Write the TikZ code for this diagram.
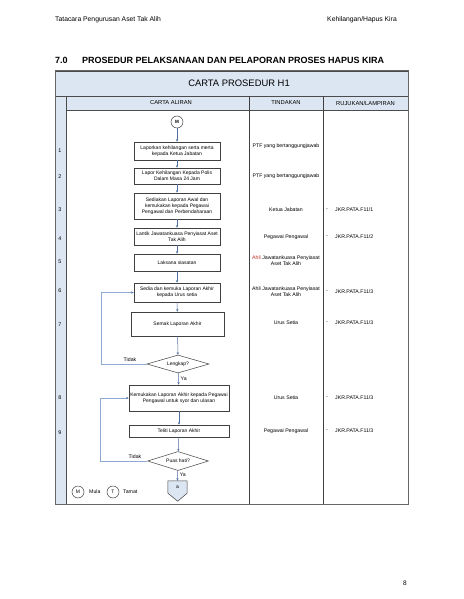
\documentclass[tikz,border=0pt]{standalone}
\usepackage{fontspec}
\setmainfont{Liberation Sans}
\usetikzlibrary{shapes.geometric,arrows.meta}
\definecolor{hdrblue}{HTML}{DCE6F2}
\definecolor{arrblue}{HTML}{4F6FA0}
\definecolor{fbblue}{HTML}{8DA9D4}
\definecolor{ahlired}{HTML}{C0302A}
\tikzset{
  box/.style={draw=black!75, line width=0.5pt, fill=white, align=center, inner sep=0.5pt,
    font=\fontsize{5}{5.9}\selectfont},
  cond/.style={diamond, draw=black!75, line width=0.5pt, fill=white, inner sep=0pt, aspect=3.3,
    font=\fontsize{5}{5.9}\selectfont},
  term/.style={circle, draw=black!75, line width=0.5pt, fill=white, minimum size=12pt, inner sep=0pt,
    font=\fontsize{5}{5.5}\selectfont},
  arr/.style={draw=arrblue, line width=0.5pt, -{Stealth[length=2.6pt,width=2.2pt]}},
  fb/.style={draw=fbblue, line width=0.8pt, -{Stealth[length=2.6pt,width=2.2pt,color=arrblue]}},
  small/.style={font=\fontsize{5.2}{6}\selectfont, align=center, inner sep=0pt},
  colhead/.style={font=\fontsize{5.8}{6.5}\selectfont, inner sep=0pt}
}
\begin{document}
\begin{tikzpicture}[x=1pt,y=-1pt]
\useasboundingbox[fill=white] (0,0) rectangle (463,599);
% page head
\node[anchor=west, font=\fontsize{6.8}{8}\selectfont, inner sep=0pt] (head1) at (55,20) {Tatacara Pengurusan Aset Tak Alih};
\node[anchor=east, font=\fontsize{6.8}{8}\selectfont, inner sep=0pt] (head2) at (397,20) {Kehilangan/Hapus Kira};
\node[anchor=west, font=\bfseries\fontsize{9}{11}\selectfont, inner sep=0pt] (sec) at (55,60) {7.0};
\node[anchor=west, font=\bfseries\fontsize{9}{11}\selectfont, inner sep=0pt] (sectitle) at (82,60) {PROSEDUR PELAKSANAAN DAN PELAPORAN PROSES HAPUS KIRA};
\node[font=\fontsize{6.5}{7}\selectfont, inner sep=0pt] (pageno) at (405,583) {8};
% table
\draw[draw=black!70, fill=hdrblue, line width=0.6pt] (55,71) rectangle (408,96);
\draw[draw=black!70, fill=hdrblue, line width=0.6pt] (55,96) rectangle (66,504);
\draw[draw=black!70, fill=hdrblue, line width=0.6pt] (66,96) rectangle (408,110);
\draw[black!75, line width=0.6pt] (249,96) -- (249,504) (323,96) -- (323,504);
\draw[black!60, line width=1pt] (55,71) rectangle (408,504);
\node[font=\fontsize{9.4}{10}\selectfont, inner sep=0pt] (title) at (239,83.5) {CARTA PROSEDUR H1};
\node[colhead] (h1) at (171,103) {CARTA ALIRAN};
\node[colhead] (h2) at (286,102.5) {TINDAKAN};
\node[colhead] (h3) at (365.5,103) {RUJUKAN/LAMPIRAN};
\foreach \n/\y in {1/151,2/177,3/210,4/239,5/262,6/291,7/325,8/398,9/433}
  \node[font=\fontsize{5.4}{6}\selectfont, inner sep=0pt] (n\n) at (60,\y) {\n};
% flow chart
\node[term, font=\bfseries\fontsize{4.6}{5}\selectfont] (m) at (177,122) {M};
\node[box, minimum width=86pt, minimum height=18pt] (b1) at (177,151) {Laporkan kehilangan serta merta\\kepada Ketua Jabatan};
\node[box, minimum width=86pt, minimum height=16pt] (b2) at (177,176) {Lapor Kehilangan Kepada Polis\\Dalam Masa 24 Jam};
\node[box, minimum width=86pt, minimum height=26pt] (b3) at (177,206) {Sediakan Laporan Awal dan\\kemukakan kepada Pegawai\\Pengawal dan Perbendaharaan};
\node[box, minimum width=86pt, minimum height=17pt] (b4) at (177,236.5) {Lantik Jawatankuasa Penyiasat Aset\\Tak Alih};
\node[box, minimum width=86pt, minimum height=17pt] (b5) at (177,262.5) {Laksana siasatan};
\node[box, minimum width=86pt, minimum height=19pt] (b6) at (177,292.5) {Sedia dan kemuka Laporan Akhir\\kepada Urus setia};
\node[box, minimum width=93pt, minimum height=24pt] (b7) at (177.5,324) {Semak Laporan Akhir};
\node[cond, minimum width=62pt, minimum height=18pt] (d1) at (178,364) {Lengkap?};
\node[box, minimum width=100pt, minimum height=26pt] (b8) at (179,398) {Kemukakan Laporan Akhir kepada Pegawai\\Pengawal untuk syor dan ulasan};
\node[box, minimum width=100pt, minimum height=12pt] (b9) at (179,431) {Teliti Laporan Akhir};
\node[cond, minimum width=61pt, minimum height=19pt] (d2) at (178,461) {Puas hati?};
\node[minimum width=19pt, minimum height=12pt, inner sep=0pt] (a) at (177.5,487) {};
\draw[draw=black!75, line width=0.5pt, fill=hdrblue] (a.north west) -- (a.north east) -- (a.south east)
  -- ++(-9.5,8) -- (a.south west) -- cycle;
\node[font=\fontsize{5}{5.5}\selectfont, inner sep=0pt] (alabel) at (a) {a};
\foreach \p/\q in {m/b1,b1/b2,b2/b3,b3/b4,b4/b5,b5/b6,b6/b7,b7/d1,b8/b9,b9/d2}
  \draw[arr] (\p) -- (\q);
\draw[arr] (d1) -- node[small, right, pos=0.45, xshift=2pt] (ya1) {Ya} (b8);
\draw[arr] (d2) -- node[small, right, pos=0.4, xshift=2pt] (ya2) {Ya} (a.north);
% back loops
\coordinate (l1) at (101,364);
\coordinate (l2) at (100,461);
\draw[fb] (d1.west) -- (l1) |- (b6.west);
\draw[fb] (d2.west) -- (l2) |- (b8.west);
\node[small] (tidak1) at (130,359.5) {Tidak};
\node[small] (tidak2) at (135,456.5) {Tidak};
% legend
\node[term] (lm) at (78,492) {M};
\node[small, anchor=west] (mula) at (89,492) {Mula};
\node[term] (lt) at (113,492) {T};
\node[small, anchor=west] (tamat) at (123,492) {Tamat};
% tindakan
\node[small] (t1) at (286,146) {PTF yang bertanggungjawab};
\node[small] (t2) at (286,176) {PTF yang bertanggungjawab};
\node[small] (t3) at (286,210) {Ketua Jabatan};
\node[small] (t4) at (286,237) {Pegawai Pengawal};
\node[small] (t5) at (286,260.5) {\textcolor{ahlired}{Ahli} Jawatankuasa Penyiasat\\Aset Tak Alih};
\node[small] (t6) at (286,292) {Ahli Jawatankuasa Penyiasat\\Aset Tak Alih};
\node[small] (t7) at (286,323) {Urus Setia};
\node[small] (t8) at (286,398) {Urus Setia};
\node[small] (t9) at (286,431) {Pegawai Pengawal};
% rujukan
\foreach \k/\y/\f in {3/210/1,4/237/2,6/292/3,7/323/3,8/398/3,9/431/3} {
  \node[small] (dash\k) at (327,\y) {-};
  \node[small, anchor=west] (r\k) at (335,\y) {JKR.PATA.F11/\f};
}
\end{tikzpicture}
\end{document}
